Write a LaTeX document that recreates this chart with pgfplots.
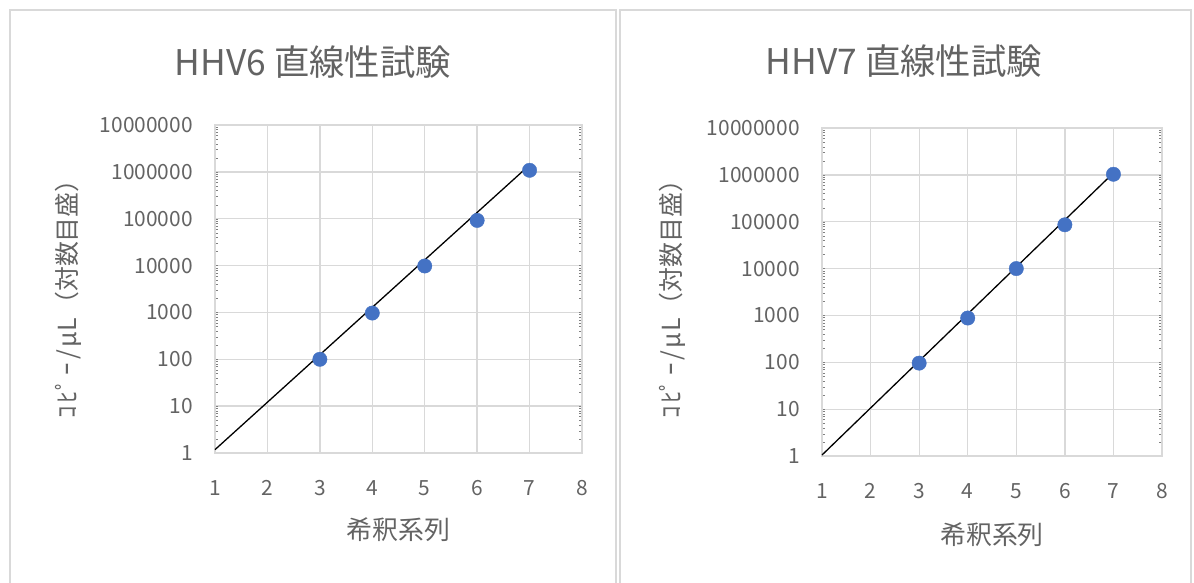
\documentclass[border=0pt]{standalone}
\usepackage{pgfplots}
\pgfplotsset{compat=1.18}
\usepackage{fontspec}
\setmainfont{Noto Sans CJK JP}
\definecolor{txt}{HTML}{636363}
\definecolor{grd}{HTML}{D9D9D9}
\definecolor{frm}{HTML}{D9D9D9}
\definecolor{mk}{HTML}{4472C4}
\newcommand{\ylab}{ｺ\hspace{3bp}ﾋﾟ\hspace{3bp}ｰ\hspace{3bp}/\hspace{2bp}μ\hspace{1bp}L\hspace{1bp}（対数目盛）}
\pgfplotsset{myax/.style={
  scale only axis,
  xmin=1, xmax=8, ymin=1, ymax=1e7,
  xtick={1,2,3,4,5,6,7,8}, xticklabels={1,2,3,4,5,6,7,8},
  ytick={1,10,100,1000,10000,100000,1000000,10000000},
  yticklabels={1,10,100,1000,10000,100000,1000000,10000000},
  grid=major, major grid style={draw=grd, line width=1.3bp},
  axis line style={draw=grd, line width=1.3bp},
  major tick length=0pt,
  ticklabel style={font=\fontsize{21}{21}\selectfont, text=txt, inner sep=0pt},
  xticklabel style={anchor=base, yshift=-42bp},
  yticklabel style={anchor=east, xshift=-22bp},
  title style={font=\fontsize{35.5}{35.5}\selectfont, text=txt, anchor=center},
  xlabel style={font=\fontsize{26}{26}\selectfont, text=txt, anchor=center},
  ylabel style={font=\fontsize{25}{25}\selectfont, text=txt, anchor=center},
  anchor=south west, clip=false,
  height=328bp,
}}
\begin{document}
\begin{tikzpicture}[x=1bp,y=1bp]
\useasboundingbox (0,0) rectangle (1194,-583);
\draw[frm, line width=1.2bp] (10,-600) -- (10,-10) -- (616,-10) -- (616,-600);
\draw[frm, line width=1.2bp] (620,-600) -- (620,-10) -- (1191,-10) -- (1191,-600);
\begin{axis}[ymode=log, myax, at={(215bp,-453bp)}, width=367bp,
  title={HHV6 直線性試験}, title style={at={(axis description cs:0.267,1.175)}},
  xlabel={希釈系列}, xlabel style={at={(axis description cs:0.5,-0.235)}},
  ylabel={\ylab}, ylabel style={at={(axis description cs:-0.4,0.488)}}]
\addplot[black, line width=1.3bp] coordinates {(1,1.18) (7,1.4e6)};
\addplot[only marks, mark=*, mark size=7.2bp, mark options={draw=mk, fill=mk}] coordinates {
(3,100) (4,970) (5,9800) (6,92000) (7,1.08e6)};
\end{axis}
\begin{axis}[ymode=log, myax, at={(822bp,-456bp)}, width=340bp,
  title={HHV7 直線性試験}, title style={at={(axis description cs:0.241,1.185)}},
  xlabel={希釈系列}, xlabel style={at={(axis description cs:0.5,-0.241)}},
  ylabel={\ylab}, ylabel style={at={(axis description cs:-0.441,0.496)}}]
\addplot[black, line width=1.3bp] coordinates {(1,1.05) (7,1.1e6)};
\addplot[only marks, mark=*, mark size=7.2bp, mark options={draw=mk, fill=mk}] coordinates {
(3,96) (4,880) (5,10000) (6,86000) (7,1.03e6)};
\end{axis}
\end{tikzpicture}
\end{document}
